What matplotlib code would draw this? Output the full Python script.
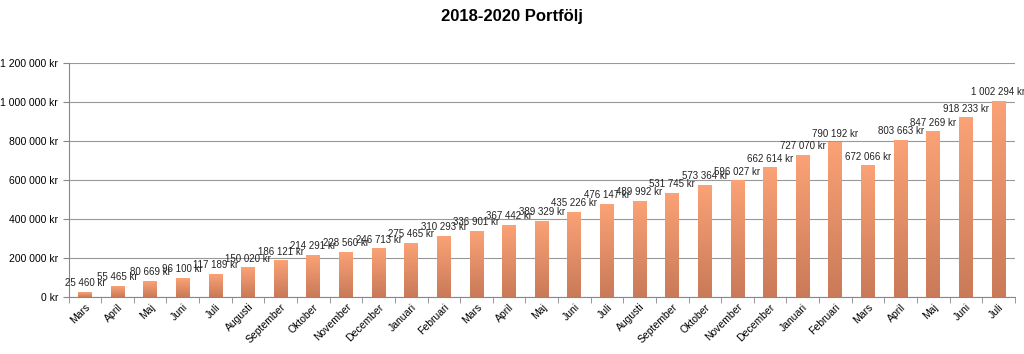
import matplotlib.pyplot as plt
import numpy as np
from matplotlib.colors import LinearSegmentedColormap

months = ["Mars", "April", "Maj", "Juni", "Juli", "Augusti", "September", "Oktober",
          "November", "December", "Januari", "Februari", "Mars", "April", "Maj", "Juni",
          "Juli", "Augusti", "September", "Oktober", "November", "December", "Januari",
          "Februari", "Mars", "April", "Maj", "Juni", "Juli"]
values = [25460, 55465, 80669, 96100, 117189, 150020, 186121, 214291, 228560, 246713,
          275465, 310293, 336901, 367442, 389329, 435226, 476147, 489992, 531745, 573364,
          596027, 662614, 727070, 790192, 672066, 803663, 847269, 918233, 1002294]


def kr(v):
    return f"{v:,.0f}".replace(",", " ") + " kr"


plt.rcParams["font.family"] = ["Liberation Sans", "DejaVu Sans"]

fig = plt.figure(figsize=(10.24, 3.54), dpi=100)
ax = fig.add_axes([0.067, 0.161, 0.924, 0.661])

x = np.arange(len(values))
bars = ax.bar(x, values, width=0.42, color="none", zorder=3)

# vertical gradient fill, darker at the bottom
cmap = LinearSegmentedColormap.from_list("bar", ["#C97A58", "#FBA276"])
grad = np.linspace(0, 1, 256).reshape(-1, 1)
for b in bars:
    x0, w, h = b.get_x(), b.get_width(), b.get_height()
    ax.imshow(grad, extent=[x0, x0 + w, 0, h], origin="lower", cmap=cmap,
              aspect="auto", zorder=3)

for xi, v in zip(x, values):
    ax.annotate(kr(v), (xi, v), xytext=(0, 3), textcoords="offset points",
                ha="center", va="bottom", fontsize=7, color="#222222", zorder=4)

ax.set_xlim(-0.5, len(values) - 0.5)
ax.set_ylim(0, 1200000)
ax.set_yticks(np.arange(0, 1200001, 200000))
ax.set_yticklabels([kr(t) for t in np.arange(0, 1200001, 200000)], fontsize=7.5)
ax.set_xticks(x)
ax.set_xticklabels(months, rotation=45, ha="right", rotation_mode="anchor", fontsize=7.5)
ax.set_xticks(np.arange(-0.5, len(values), 1), minor=True)
ax.tick_params(axis="x", which="major", length=0)
ax.tick_params(axis="x", which="minor", length=4, color="#888888")
ax.tick_params(axis="y", length=4, color="#888888")

ax.grid(axis="y", color="#999999", linewidth=0.8, zorder=0)
for s in ["top", "right"]:
    ax.spines[s].set_visible(False)
ax.spines["left"].set_color("#888888")
ax.spines["bottom"].set_color("#888888")

fig.suptitle("2018-2020 Portfölj", fontsize=12, fontweight="bold", y=0.975)
fig.savefig("out.png", dpi=100)
plt.close(fig)
